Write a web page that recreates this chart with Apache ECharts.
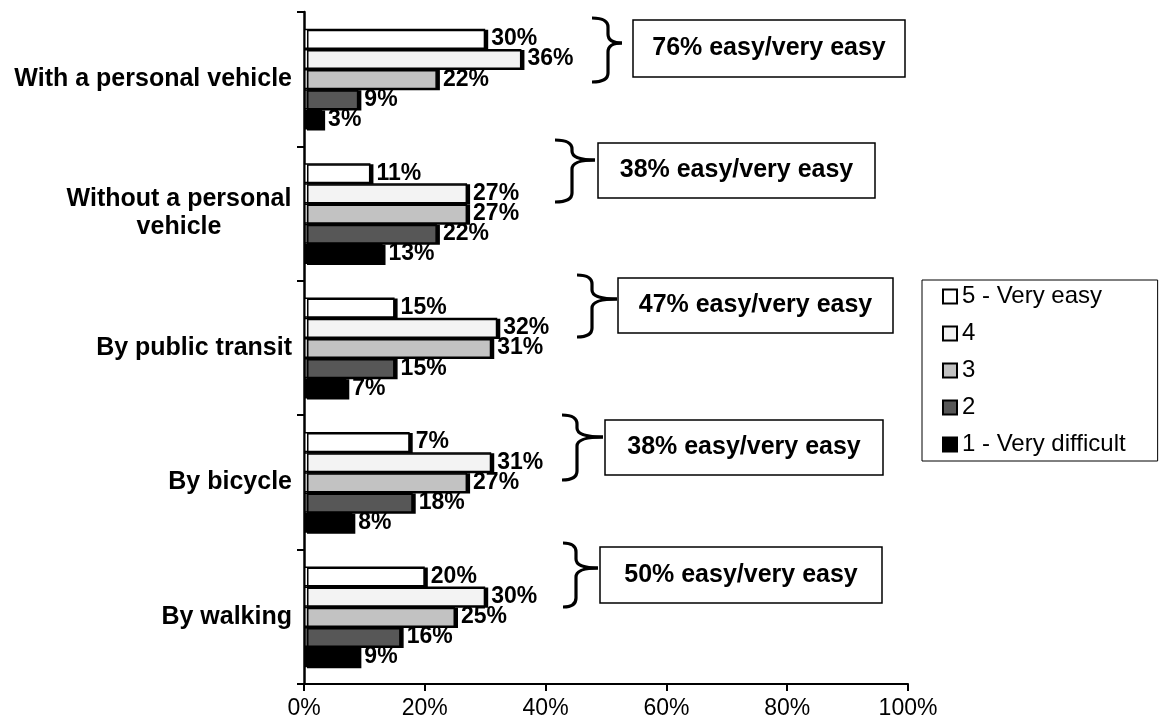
<!DOCTYPE html>
<html>
<head>
<meta charset="utf-8">
<script src="https://cdn.jsdelivr.net/npm/echarts@6/dist/echarts.min.js"></script>
<style>
  html, body { margin: 0; padding: 0; background: #fff; }
  #chart { width: 1161px; height: 727px; }
</style>
</head>
<body>
<div id="chart"></div>
<script>
const categories = [
  "With a personal vehicle",
  "Without a personal vehicle",
  "By public transit",
  "By bicycle",
  "By walking",
]
const seriesNames = ["5 - Very easy", "4", "3", "2", "1 - Very difficult"]

// bar lengths as drawn (percent)
const veryEasy = [30, 11, 15, 17.5, 20]
const easy = [36, 27, 32, 31, 30]
const neutral = [22, 27, 31, 27, 25]
const difficult = [9, 22, 15, 18, 16]
const veryDifficult = [3, 13, 7, 8, 9]

// printed labels where they differ from the bar length
const veryEasyLabels = [30, 11, 15, 7, 20]

const summaryLabels = [
  "76% easy/very easy",
  "38% easy/very easy",
  "47% easy/very easy",
  "38% easy/very easy",
  "50% easy/very easy",
]
const xTicks = [0, 20, 40, 60, 80, 100]

const font = "'Liberation Sans', Arial, sans-serif"

const chart = echarts.init(document.getElementById("chart"), null, { renderer: "canvas" })

function barSeries(name, values, color, labels) {
  return {
    name,
    type: "bar",
    data: values,
    barGap: "0%",
    barCategoryGap: "25%",
    itemStyle: {
      color,
      borderColor: "#000",
      borderWidth: 1.5,
      shadowColor: "#000",
      shadowOffsetX: 3,
      shadowOffsetY: 1,
      shadowBlur: 0,
    },
    label: {
      show: true,
      position: "right",
      distance: 6,
      color: "#000",
      fontFamily: font,
      fontWeight: "bold",
      fontSize: 23,
      formatter: (p) => (labels ? labels[p.dataIndex] : p.value) + "%",
    },
    emphasis: { disabled: true },
    animation: false,
  }
}

const braceStyle = { fill: null, stroke: "#000", lineWidth: 3.2 }

// brace: left curl x, vertical x, tip x, top y, tip y, bottom y
function brace(x0, xv, xt, top, tip, bottom) {
  const r = 9
  const curve = (x1, y1, cx, cy, x2, y2) => ({
    type: "bezierCurve",
    shape: { x1, y1, x2, y2, cpx1: cx, cpy1: cy },
    style: braceStyle,
  })
  const line = (x1, y1, x2, y2) => ({
    type: "line",
    shape: { x1, y1, x2, y2 },
    style: braceStyle,
  })
  return [
    curve(x0, top, xv, top, xv, top + r),
    line(xv, top + r, xv, tip - r),
    curve(xv, tip - r, xv, tip, xt, tip),
    curve(xt, tip, xv, tip, xv, tip + r),
    line(xv, tip + r, xv, bottom - r),
    curve(xv, bottom - r, xv, bottom, x0, bottom),
  ]
}

function summaryBox(x, y, w, h, text) {
  return [
    {
      type: "rect",
      shape: { x, y, width: w, height: h },
      style: { fill: "#fff", stroke: "#000", lineWidth: 1.5 },
    },
    {
      type: "text",
      x: x + w / 2,
      y: y + h / 2,
      style: {
        text,
        align: "center",
        verticalAlign: "middle",
        fontFamily: font,
        fontWeight: "bold",
        fontSize: 25,
        fill: "#000",
      },
    },
  ]
}

chart.setOption({
  backgroundColor: "#fff",
  animation: false,
  grid: { left: 304, right: 253, top: 12, bottom: 43, containLabel: false },
  legend: {
    orient: "vertical",
    left: 922,
    top: 280,
    icon: "rect",
    itemWidth: 14,
    itemHeight: 14,
    itemGap: 10,
    padding: [3, 32, 3, 20],
    borderColor: "#000",
    borderWidth: 1,
    textStyle: { fontFamily: font, fontSize: 24, color: "#000", lineHeight: 27 },
    data: seriesNames,
    selectedMode: false,
  },
  xAxis: {
    type: "value",
    min: 0,
    max: 100,
    interval: 20,
    axisLine: { show: true, lineStyle: { color: "#000", width: 2 } },
    axisTick: { show: true, length: 7, lineStyle: { color: "#000", width: 2 } },
    splitLine: { show: false },
    axisLabel: {
      margin: 13,
      color: "#000",
      fontFamily: font,
      fontSize: 23,
      formatter: (v) => (xTicks.includes(v) ? v + "%" : ""),
    },
  },
  yAxis: {
    type: "category",
    inverse: true,
    data: categories,
    axisLine: { show: true, lineStyle: { color: "#000", width: 2.5 } },
    axisTick: { show: true, length: 7, lineStyle: { color: "#000", width: 2 } },
    axisLabel: {
      margin: 12,
      color: "#000",
      fontFamily: font,
      fontWeight: "bold",
      fontSize: 25,
      lineHeight: 28,
      formatter: (v) =>
        v === "Without a personal vehicle"
          ? "{c|Without a personal}\n{c|vehicle}"
          : v,
      rich: {
        c: {
          width: 226,
          align: "center",
          fontFamily: font,
          fontWeight: "bold",
          fontSize: 25,
          lineHeight: 28,
          color: "#000",
        },
      },
    },
  },
  series: [
    barSeries(seriesNames[0], veryEasy, "#ffffff", veryEasyLabels),
    barSeries(seriesNames[1], easy, "#f3f3f3"),
    barSeries(seriesNames[2], neutral, "#c2c2c2"),
    barSeries(seriesNames[3], difficult, "#575757"),
    barSeries(seriesNames[4], veryDifficult, "#000000"),
  ],
  graphic: [
    ...brace(592, 608, 622, 18, 43, 82),
    ...summaryBox(633, 20, 272, 57, summaryLabels[0]),
    ...brace(555, 572, 595, 140, 160, 202),
    ...summaryBox(598, 143, 277, 55, summaryLabels[1]),
    ...brace(577, 592, 617, 275, 299, 337),
    ...summaryBox(618, 278, 275, 55, summaryLabels[2]),
    ...brace(562, 577, 603, 415, 437, 480),
    ...summaryBox(605, 420, 278, 55, summaryLabels[3]),
    ...brace(563, 576, 598, 543, 568, 607),
    ...summaryBox(600, 547, 282, 56, summaryLabels[4]),
  ],
})
</script>
</body>
</html>
